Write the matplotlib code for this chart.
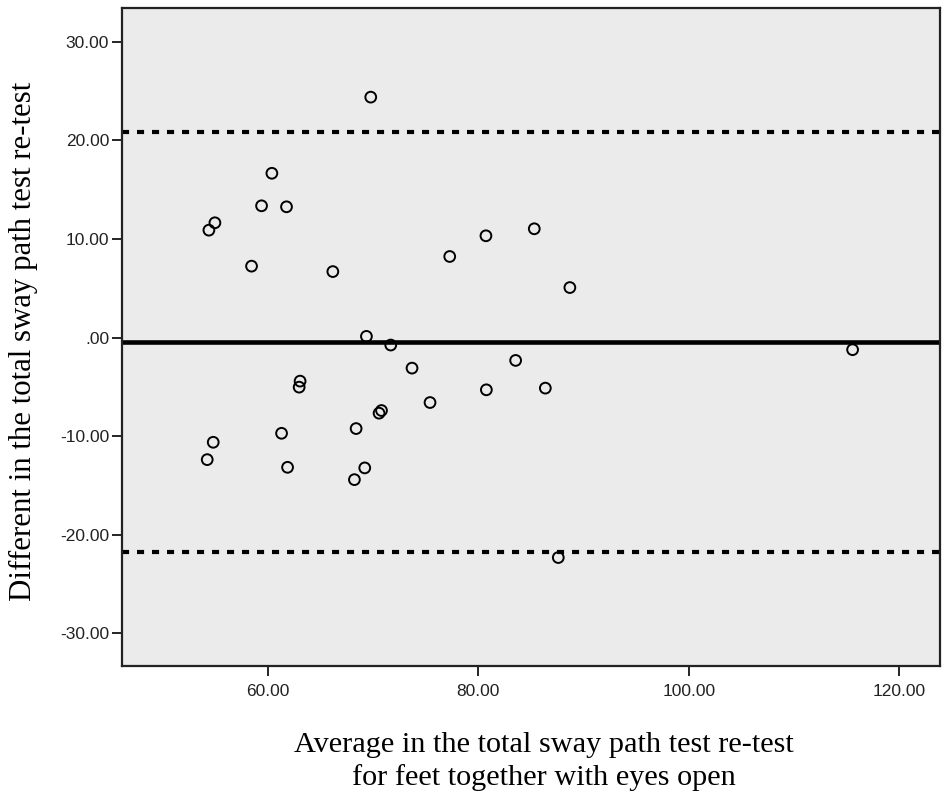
import matplotlib
matplotlib.use("Agg")
import matplotlib.pyplot as plt

# Bland-Altman data
avg = [69.8, 54.43, 55.0, 59.43, 60.41, 61.8, 58.48, 66.2, 77.3, 69.39, 71.7,
       63.09, 63.0, 73.72, 75.43, 70.82, 70.59, 68.41, 61.33, 54.84, 54.27,
       61.9, 69.23, 68.25,
       80.74, 85.33, 88.71, 115.56,
       83.56, 80.78, 86.38, 87.61]
diff = [24.39, 10.9, 11.65, 13.37, 16.67, 13.27, 7.25, 6.7, 8.23, 0.13, -0.75,
        -4.41, -5.02, -3.09, -6.58, -7.39, -7.66, -9.22, -9.7, -10.61, -12.37,
        -13.15, -13.21, -14.4,
        10.33, 11.04, 5.08, -1.22,
        -2.31, -5.29, -5.12, -22.3]

mean_diff = -0.45
upper_loa = 20.86
lower_loa = -21.75

xticks = [60, 80, 100, 120]
yticks = [-30, -20, -10, 0, 10, 20, 30]

def fmt(v):
    s = "%.2f" % v
    if s.startswith("0."):
        s = s[1:]
    return s

fig = plt.figure(figsize=(9.45, 7.98), dpi=100)
ax = fig.add_axes([0.1288, 0.1654, 0.8659, 0.8242])
ax.set_facecolor("#ebebeb")

ax.axhline(mean_diff, color="black", lw=3.3, zorder=2)
ax.axhline(upper_loa, color="black", lw=3.0, dashes=(1.7, 1.9), zorder=2)
ax.axhline(lower_loa, color="black", lw=3.0, dashes=(1.7, 1.9), zorder=2)

ax.scatter(avg, diff, s=60, facecolors="none", edgecolors="black",
           linewidths=1.4, zorder=3)

ax.set_xlim(46.15, 123.86)
ax.set_ylim(-33.3, 33.4)
ax.set_xticks(xticks)
ax.set_xticklabels([fmt(v) for v in xticks])
ax.set_yticks(yticks)
ax.set_yticklabels([fmt(v) for v in yticks])

for lab in ax.get_xticklabels() + ax.get_yticklabels():
    lab.set_family(["Liberation Sans", "DejaVu Sans"])
    lab.set_fontsize(12.5)
    lab.set_color("#222222")

ax.tick_params(axis="both", direction="out", length=7, width=1.2, pad=2)
ax.tick_params(axis="x", pad=6)

for sp in ax.spines.values():
    sp.set_linewidth(1.6)
    sp.set_color("#222222")

ax.set_xlabel("Average in the total sway path test re-test\nfor feet together with eyes open",
              family=["Liberation Serif", "DejaVu Serif"], fontsize=21.8,
              linespacing=1.32, labelpad=23.5)
ax.xaxis.label.set_x(0.516)
ax.set_ylabel("Different in the total sway path test re-test",
              family=["Liberation Serif", "DejaVu Serif"], fontsize=22.2)
ax.yaxis.set_label_coords(-0.102, 0.494)

fig.savefig("out.png", dpi=100)
